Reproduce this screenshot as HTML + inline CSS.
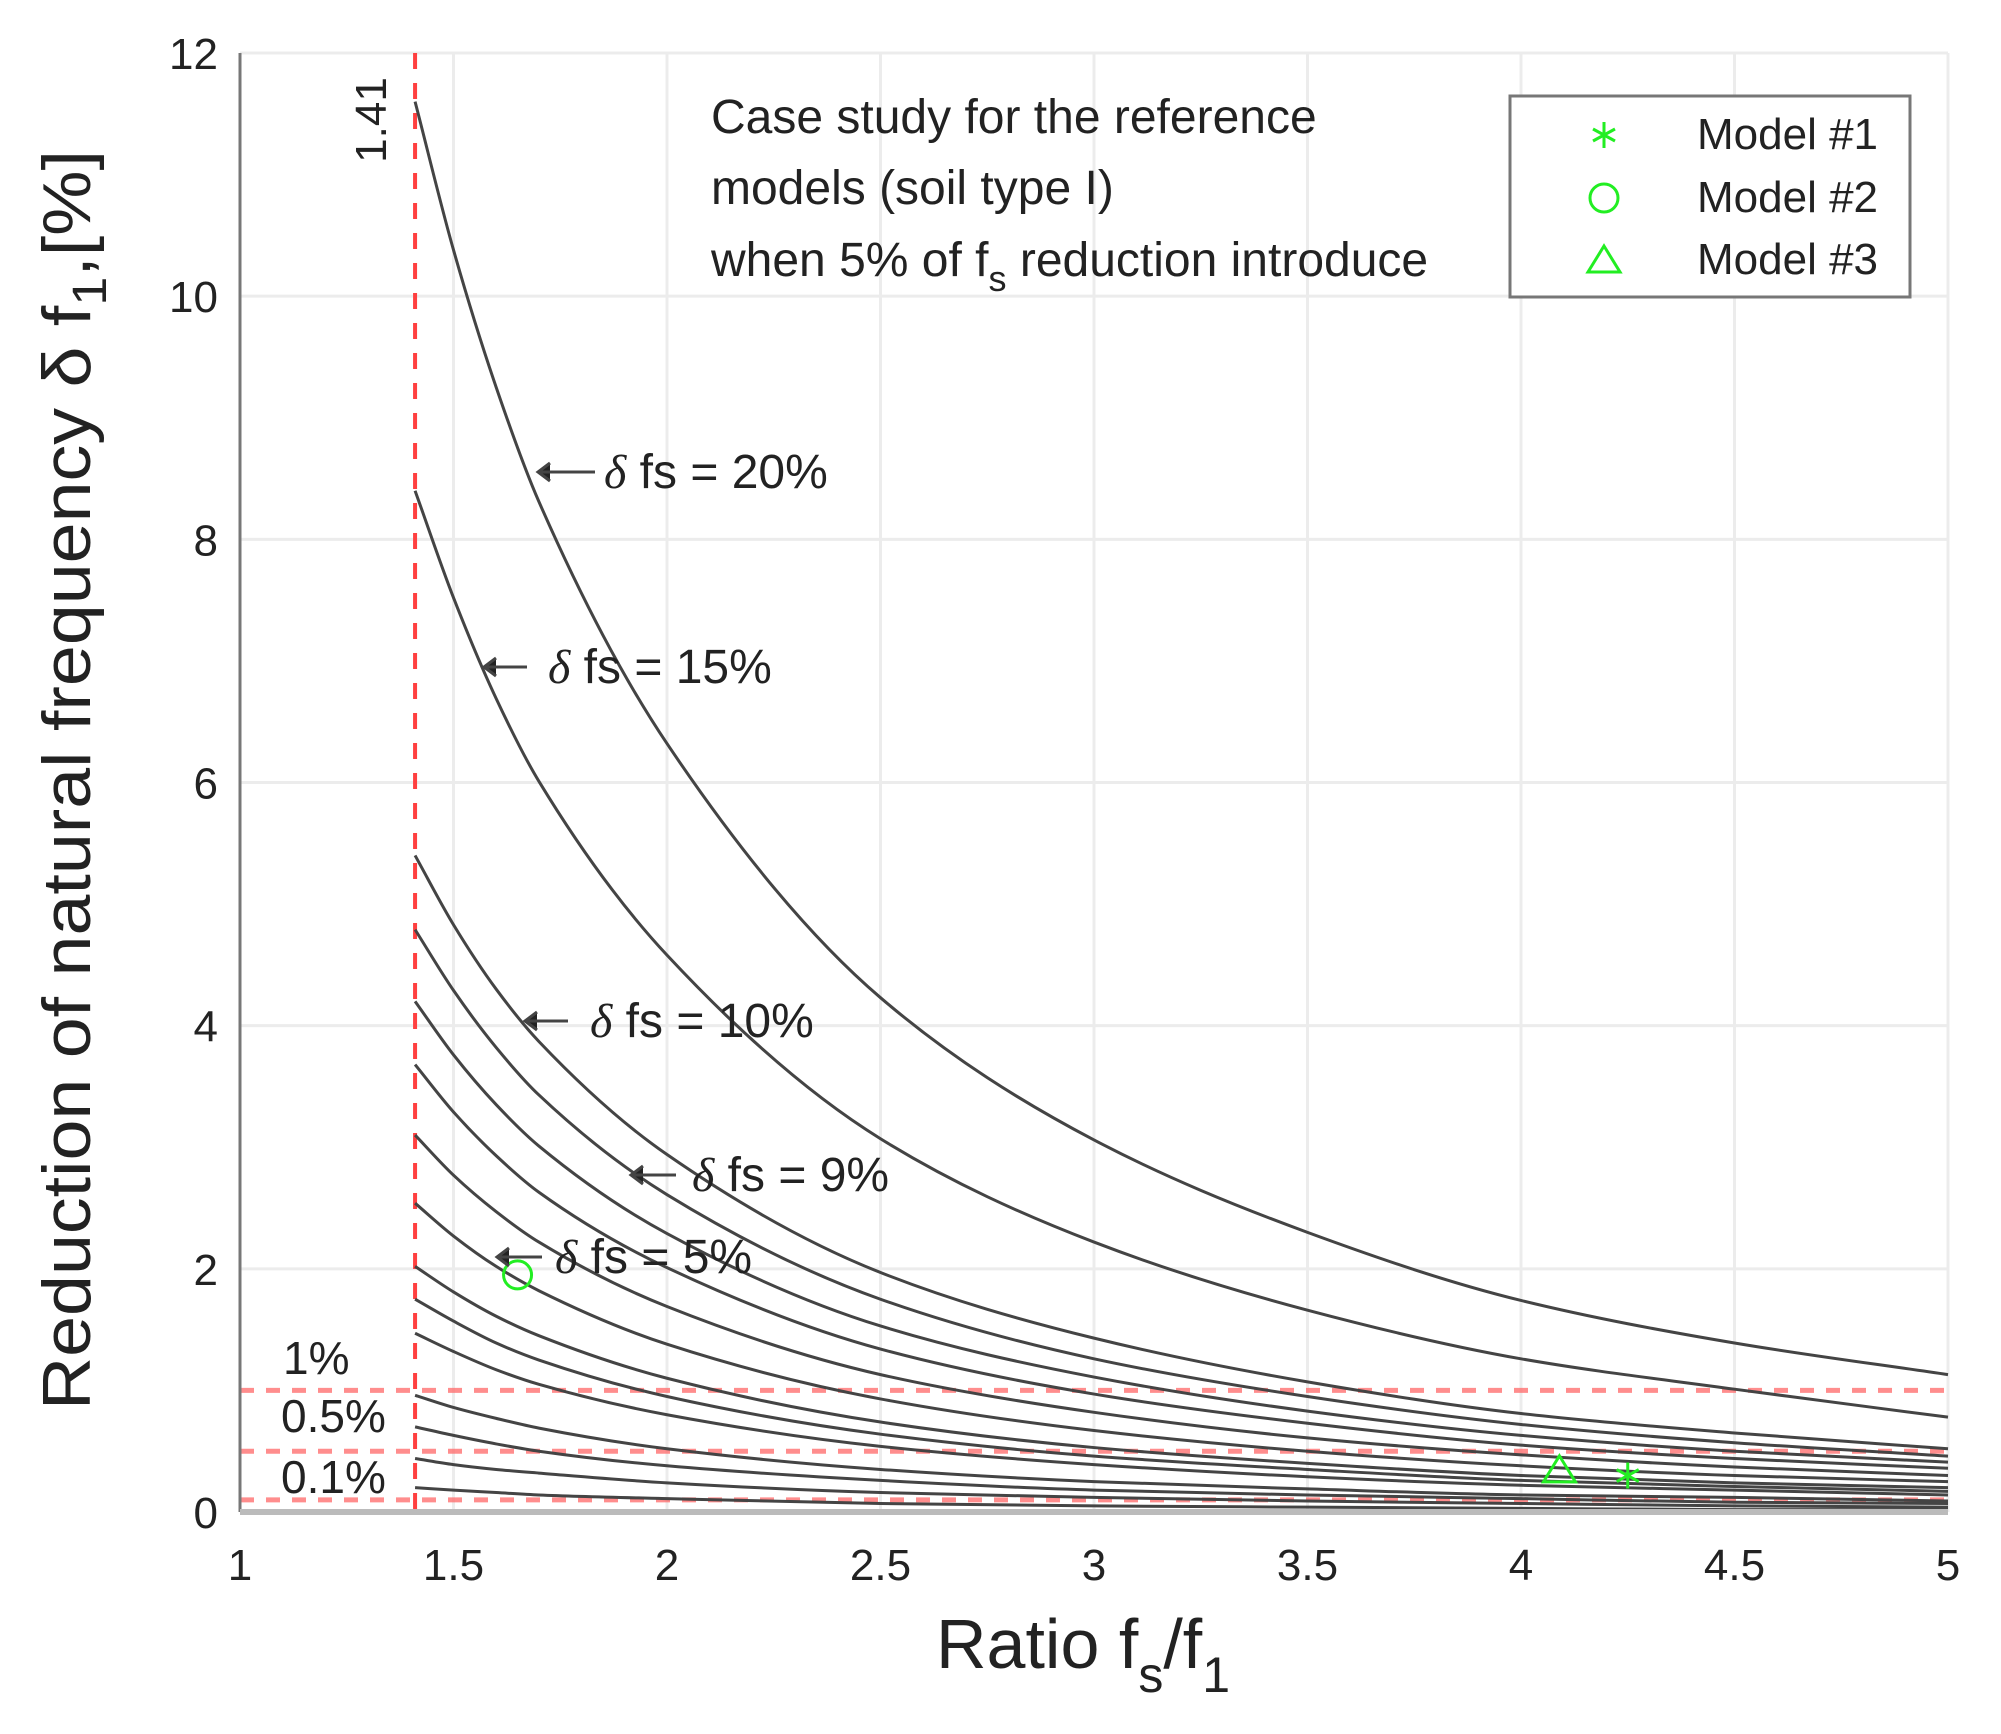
<!DOCTYPE html>
<html><head><meta charset="utf-8"><style>
html,body{margin:0;padding:0;background:#fff;}
svg{display:block;font-family:"Liberation Sans",sans-serif;}
</style></head><body>
<svg id="chart" width="2001" height="1734" viewBox="0 0 2001 1734" xmlns="http://www.w3.org/2000/svg">
<g id="grid"></g>
<g id="refs"></g>
<g id="curves"></g>
<g id="ticks"></g>
<g id="markers"></g>
<line x1="240" y1="53" x2="240" y2="1512" stroke="#777" stroke-width="3"/>
<line x1="240" y1="1512" x2="1948" y2="1512" stroke="#bbb" stroke-width="6"/>
<text transform="translate(90,780) rotate(-90)" text-anchor="middle" font-size="68" fill="#222" textLength="1260" lengthAdjust="spacingAndGlyphs">Reduction of natural frequency δ f<tspan font-size="48" dy="16">1</tspan><tspan dy="-16">,[%]</tspan></text>
<text x="936" y="1668" font-size="70" fill="#222">Ratio f<tspan font-size="50" dy="24">s</tspan><tspan dy="-24">/f</tspan><tspan font-size="50" dy="24">1</tspan></text>
<text transform="translate(386,120) rotate(-90)" text-anchor="middle" font-size="44" fill="#222">1.41</text>
<g font-size="48" fill="#222">
<text x="711" y="133">Case study for the reference</text>
<text x="711" y="204">models (soil type I)</text>
<text x="711" y="276">when 5% of f<tspan font-size="36" dy="15">s</tspan><tspan dy="-15"> reduction introduce</tspan></text>
</g>
<g>
<rect x="1510" y="96" width="400" height="201" fill="#fff" stroke="#777" stroke-width="3"/>
<g font-size="44" fill="#222">
<text x="1697" y="149">Model #1</text>
<text x="1697" y="212">Model #2</text>
<text x="1697" y="274">Model #3</text>
</g>
<g stroke="#22ee22" stroke-width="3" fill="none">
<path d="M1604 122v26M1593 129l22 12M1615 129l-22 12"/>
<circle cx="1604" cy="198" r="14"/>
<path d="M1604 246l16 26h-32z"/>
</g>
</g>
<g font-size="48" fill="#222">
<g stroke="#444" stroke-width="3"><path d="M595 472H538M550 463l-12 9 12 9"/><path d="M527 667H484M496 658l-12 9 12 9"/><path d="M568 1021H525M537 1012l-12 9 12 9"/><path d="M676 1175H631M643 1166l-12 9 12 9"/><path d="M542 1257H497M509 1248l-12 9 12 9"/></g>
<text x="604" y="488"><tspan font-family="Liberation Serif" font-style="italic">δ</tspan> fs = 20%</text>
<text x="548" y="683"><tspan font-family="Liberation Serif" font-style="italic">δ</tspan> fs = 15%</text>
<text x="590" y="1037"><tspan font-family="Liberation Serif" font-style="italic">δ</tspan> fs = 10%</text>
<text x="692" y="1191"><tspan font-family="Liberation Serif" font-style="italic">δ</tspan> fs = 9%</text>
<text x="555" y="1273"><tspan font-family="Liberation Serif" font-style="italic">δ</tspan> fs = 5%</text>
</g>
<g font-size="46" fill="#222">
<text x="283" y="1374">1%</text>
<text x="281" y="1432">0.5%</text>
<text x="281" y="1493">0.1%</text>
</g>
</svg>
<script>
const xSamples=[1.41,1.5,1.6,1.7,2,2.5,3,3.5,4,4.5,5];
const curve20=[11.6,10.38,9.25,8.31,6.32,4.23,3.06,2.30,1.74,1.39,1.13];
const curve15=[8.4,7.52,6.69,6.01,4.58,3.07,2.22,1.66,1.26,1.01,0.78];
const curve10=[5.4,4.83,4.30,3.87,2.94,1.97,1.43,1.07,0.81,0.65,0.52];
const curve9=[4.79,4.29,3.82,3.43,2.61,1.75,1.26,0.95,0.72,0.57,0.46];
const curve8=[4.2,3.76,3.35,3.01,2.29,1.53,1.11,0.83,0.63,0.50,0.41];
const curve7=[3.68,3.29,2.93,2.63,2.01,1.34,0.97,0.73,0.55,0.44,0.36];
const curve6=[3.1,2.77,2.47,2.22,1.69,1.13,0.82,0.61,0.47,0.37,0.30];
const curve5=[2.54,2.27,2.02,1.82,1.38,0.93,0.67,0.50,0.38,0.30,0.25];
const curve4=[2.02,1.81,1.61,1.45,1.10,0.74,0.53,0.40,0.30,0.24,0.20];
const curve35=[1.75,1.57,1.39,1.25,0.95,0.64,0.46,0.35,0.26,0.21,0.17];
const curve3=[1.47,1.32,1.17,1.05,0.80,0.54,0.39,0.29,0.22,0.18,0.14];
const curve2=[0.96,0.86,0.77,0.69,0.52,0.35,0.25,0.19,0.14,0.12,0.09];
const curve15b=[0.70,0.63,0.56,0.50,0.38,0.26,0.18,0.14,0.11,0.08,0.07];
const curve1=[0.44,0.39,0.35,0.32,0.24,0.16,0.12,0.09,0.07,0.05,0.04];
const curve05=[0.20,0.18,0.16,0.14,0.11,0.07,0.05,0.04,0.03,0.02,0.02];
const xTicks=[1,1.5,2,2.5,3,3.5,4,4.5,5];
const yTicks=[0,2,4,6,8,10,12];
const thresholds=[1,0.5,0.1];
const vLine=[1.41];
const markerM1=[4.25,0.30];
const markerM2=[1.65,1.95];
const markerM3=[4.09,0.33];

const NS="http://www.w3.org/2000/svg";
const X0=240,X1=1948,Y0=1512,Y1=53;
const xs=v=>X0+(v-1)/(5-1)*(X1-X0);
const ys=v=>Y0-v/12*(Y0-Y1);
function mk(tag,attrs,parent){const e=document.createElementNS(NS,tag);for(const k in attrs)e.setAttribute(k,attrs[k]);parent.appendChild(e);return e;}
const grid=document.getElementById('grid'),refs=document.getElementById('refs'),cg=document.getElementById('curves'),tg=document.getElementById('ticks'),mg=document.getElementById('markers');
xTicks.forEach(t=>{
  const l=mk('line',{x1:xs(t),x2:xs(t),y1:Y1,y2:Y0,stroke:'#ececec','stroke-width':3},grid);
  
  
  const tx=mk('text',{x:xs(t),y:1580,'text-anchor':'middle','font-size':44,fill:'#222'},tg);
  tx.textContent=t;
  
  
});
yTicks.forEach(t=>{
  const l=mk('line',{x1:X0,x2:X1,y1:ys(t),y2:ys(t),stroke:'#ececec','stroke-width':3},grid);
  
  
  const tx=mk('text',{x:218,y:ys(t)+16,'text-anchor':'end','font-size':44,fill:'#222'},tg);
  tx.textContent=t;
  
  
});
thresholds.forEach(t=>{
  const l=mk('line',{x1:X0,x2:X1,y1:ys(t),y2:ys(t),stroke:'#ff7070','stroke-width':5,'stroke-dasharray':'14 12','stroke-opacity':0.8},refs);
  
  
});
vLine.forEach(v=>{
  const l=mk('line',{x1:xs(v),x2:xs(v),y1:Y1,y2:Y0,stroke:'#ff4040','stroke-width':4,'stroke-dasharray':'16 14'},refs);
  
  
});
const series=[curve20,curve15,curve10,curve9,curve8,curve7,curve6,curve5,curve4,curve35,curve3,curve2,curve15b,curve1,curve05];
function pathFor(vals){
  const p=vals.map((v,i)=>[xs(xSamples[i]),ys(v)]);
  const n=p.length,sl=[],m=[];
  for(let i=0;i<n-1;i++)sl.push((p[i+1][1]-p[i][1])/(p[i+1][0]-p[i][0]));
  m[0]=sl[0];m[n-1]=sl[n-2];
  for(let i=1;i<n-1;i++){
    const h0=p[i][0]-p[i-1][0],h1=p[i+1][0]-p[i][0];
    m[i]=(sl[i-1]*sl[i]<=0)?0:3*(h0+h1)/((2*h1+h0)/sl[i-1]+(h1+2*h0)/sl[i]);
  }
  let d='M'+p[0][0]+' '+p[0][1];
  for(let i=0;i<n-1;i++){
    const h=(p[i+1][0]-p[i][0])/3;
    d+=' C'+(p[i][0]+h)+' '+(p[i][1]+m[i]*h)+' '+(p[i+1][0]-h)+' '+(p[i+1][1]-m[i+1]*h)+' '+p[i+1][0]+' '+p[i+1][1];
  }
  return d;
}
series.forEach(s=>{
  const p=mk('path',{d:pathFor(s),fill:'none',stroke:'#444','stroke-width':3},cg);
  
  
});
const m2=mk('circle',{cx:xs(markerM2[0]),cy:ys(markerM2[1]),r:14,fill:'none',stroke:'#22ee22','stroke-width':3},mg);


const tx3=xs(markerM3[0]),ty3=ys(markerM3[1]);
const m3=mk('path',{d:'M'+tx3+' '+(ty3-16)+'l16 26h-32z',fill:'none',stroke:'#22ee22','stroke-width':3},mg);


const ax=xs(markerM1[0]),ay=ys(markerM1[1]);
const m1=mk('path',{d:'M'+ax+' '+(ay-13)+'v26M'+(ax-11)+' '+(ay-6)+'l22 12M'+(ax+11)+' '+(ay-6)+'l-22 12',fill:'none',stroke:'#22ee22','stroke-width':3},mg);


</script>
</body></html>
